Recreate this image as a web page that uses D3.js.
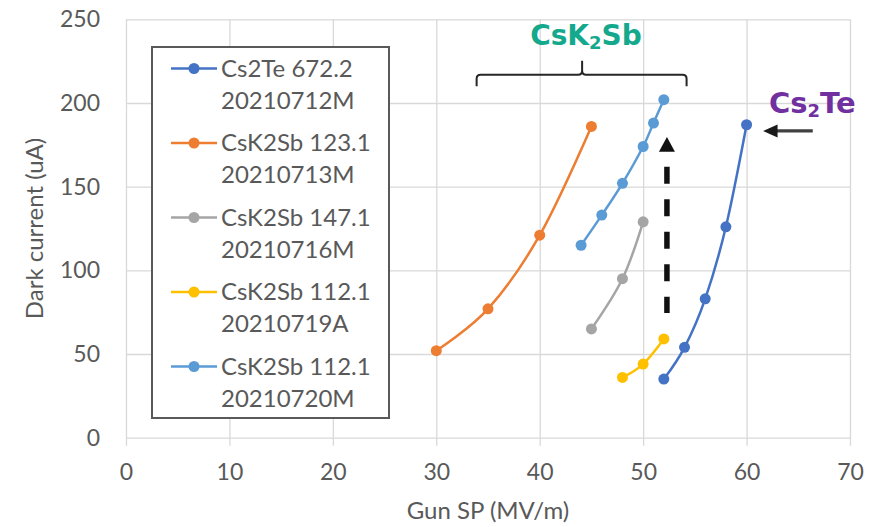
<!DOCTYPE html>
<html>
<head>
<meta charset="utf-8">
<script src="https://cdn.jsdelivr.net/npm/d3@7"></script>
<style>
  html, body { margin: 0; padding: 0; background: #ffffff; }
  svg { display: block; }
  text { font-family: Lato, "Open Sans", sans-serif; }
</style>
</head>
<body>
<svg id="chart" width="887" height="527"></svg>
<script>
// Axis ticks
const xTickValues = [0, 10, 20, 30, 40, 50, 60, 70];
const yTickValues = [0, 50, 100, 150, 200, 250];

// Series: gun set point (MV/m) vs dark current (uA)
const seriesNames = [
  ["Cs2Te 672.2", "20210712M"],
  ["CsK2Sb 123.1", "20210713M"],
  ["CsK2Sb 147.1", "20210716M"],
  ["CsK2Sb 112.1", "20210719A"],
  ["CsK2Sb 112.1", "20210720M"]
];
const seriesColors = ["#4472C4", "#ED7D31", "#A5A5A5", "#FFC000", "#5B9BD5"];

const cs2te0712X = [52, 54, 56, 58, 60];
const cs2te0712Y = [35, 54, 83, 126, 187];
const csk2sb0713X = [30, 35, 40, 45];
const csk2sb0713Y = [52, 77, 121, 186];
const csk2sb0716X = [45, 48, 50];
const csk2sb0716Y = [65, 95, 129];
const csk2sb0719X = [48, 50, 52];
const csk2sb0719Y = [36, 44, 59];
const csk2sb0720X = [44, 46, 48, 50, 51, 52];
const csk2sb0720Y = [115, 133, 152, 174, 188, 202];

const seriesX = [cs2te0712X, csk2sb0713X, csk2sb0716X, csk2sb0719X, csk2sb0720X];
const seriesY = [cs2te0712Y, csk2sb0713Y, csk2sb0716Y, csk2sb0719Y, csk2sb0720Y];

// Annotation anchors, in data units
const bracketX = [33.9, 44.1, 54.2];      // left end, peak, right end
const bracketY = [210, 216.8, 225.3];     // end tips, bar, peak
const dashArrowX = 52.3;
const dashArrowY = [74.5, 161.9, 170.8, 179.7]; // bottom, top of dashes, head base, head tip
const cs2teArrowX = [66.4, 62.9, 61.6];   // tail, head base, tip
const cs2teArrowY = 183.3;

const svg = d3.select("#chart");
const plot = { left: 126, right: 850, top: 19.3, bottom: 437.7 };

const x = d3.scaleLinear().domain([0, 70]).range([plot.left, plot.right]);
const y = d3.scaleLinear().domain([0, 250]).range([plot.bottom, plot.top]);

const gridColor = "#d9d9d9";
const textColor = "#595959";

// Horizontal gridlines with y tick labels
const yAxis = d3.axisLeft(y).tickValues(yTickValues).tickSize(-(plot.right - plot.left)).tickPadding(26);
const gy = svg.append("g").attr("transform", `translate(${plot.left},0)`).call(yAxis);
gy.select(".domain").remove();
gy.selectAll(".tick line").attr("stroke", gridColor).attr("stroke-width", 1.3);
gy.selectAll(".tick text")
  .attr("fill", textColor).style("font-size", "23px").style("font-family", "Lato, sans-serif");

// Vertical gridlines with x tick labels; short ticks below the axis
const xAxis = d3.axisBottom(x).tickValues(xTickValues).tickSize(-(plot.bottom - plot.top)).tickPadding(0);
const gx = svg.append("g").attr("transform", `translate(0,${plot.bottom})`).call(xAxis);
gx.select(".domain").remove();
gx.selectAll(".tick line").attr("stroke", gridColor).attr("stroke-width", 1.3).attr("y2", 8).attr("y1", -(plot.bottom - plot.top));
gx.selectAll(".tick text")
  .attr("fill", textColor).attr("y", 34).attr("dy", "0.35em")
  .style("font-size", "23px").style("font-family", "Lato, sans-serif");

// Axis titles
svg.append("text")
  .attr("x", (plot.left + plot.right) / 2).attr("y", 519)
  .attr("text-anchor", "middle").attr("fill", textColor)
  .style("font-size", "24px").text("Gun SP (MV/m)");
svg.append("text")
  .attr("transform", `translate(43,${(plot.top + plot.bottom) / 2}) rotate(-90)`)
  .attr("text-anchor", "middle").attr("fill", textColor)
  .style("font-size", "24px").text("Dark current (uA)");

// Smoothed series lines with markers
const line = d3.line().x(d => x(d[0])).y(d => y(d[1])).curve(d3.curveCatmullRom.alpha(0));
seriesX.forEach((xs, i) => {
  const pts = xs.map((v, j) => [v, seriesY[i][j]]);
  const g = svg.append("g");
  g.append("path").attr("d", line(pts)).attr("fill", "none")
    .attr("stroke", seriesColors[i]).attr("stroke-width", 2.5);
  g.selectAll("circle").data(pts).join("circle")
    .attr("cx", d => x(d[0])).attr("cy", d => y(d[1])).attr("r", 5.5)
    .attr("fill", seriesColors[i]);
});

// Legend box
const legend = svg.append("g");
legend.append("rect")
  .attr("x", 152).attr("y", 47).attr("width", 237).attr("height", 371)
  .attr("fill", "#ffffff").attr("stroke", "#595959").attr("stroke-width", 2);
seriesNames.forEach((name, i) => {
  const cy = 68.5 + 74.5 * i;
  legend.append("line").attr("x1", 171).attr("x2", 217).attr("y1", cy).attr("y2", cy)
    .attr("stroke", seriesColors[i]).attr("stroke-width", 2.5);
  legend.append("circle").attr("cx", 194).attr("cy", cy).attr("r", 5.5).attr("fill", seriesColors[i]);
  legend.append("text").attr("x", 221).attr("y", cy + 8).attr("fill", textColor)
    .style("font-size", "24px").text(name[0]);
  legend.append("text").attr("x", 221).attr("y", cy + 40).attr("fill", textColor)
    .style("font-size", "24px").text(name[1]);
});

// CsK2Sb bracket
const bx0 = x(bracketX[0]), bxm = x(bracketX[1]), bx1 = x(bracketX[2]);
const byEnd = y(bracketY[0]), byBar = y(bracketY[1]), byPeak = y(bracketY[2]);
const r = 4;
const bracePath = [
  `M${bx0},${byEnd}`, `L${bx0},${byBar + r}`, `Q${bx0},${byBar} ${bx0 + r},${byBar}`,
  `L${bxm - r},${byBar}`, `Q${bxm},${byBar} ${bxm},${byBar - r}`, `L${bxm},${byPeak}`,
  `M${bxm},${byBar - r}`, `Q${bxm},${byBar} ${bxm + r},${byBar}`,
  `L${bx1 - r},${byBar}`, `Q${bx1},${byBar} ${bx1},${byBar + r}`, `L${bx1},${byEnd}`
].join(" ");
svg.append("path").attr("d", bracePath).attr("fill", "none")
  .attr("stroke", "#262626").attr("stroke-width", 2);

// Material labels
const labelFont = "'DejaVu Sans', sans-serif";
const csk2sb = svg.append("text").attr("x", 586).attr("y", 45).attr("text-anchor", "middle")
  .attr("fill", "#14A88C").style("font-family", labelFont).style("font-weight", "bold").style("font-size", "28px");
csk2sb.append("tspan").text("CsK");
csk2sb.append("tspan").attr("dy", 4).style("font-size", "18px").text("2");
csk2sb.append("tspan").attr("dy", -4).text("Sb");

const cs2te = svg.append("text").attr("x", 769).attr("y", 113)
  .attr("fill", "#7030A0").style("font-family", labelFont).style("font-weight", "bold").style("font-size", "29px");
cs2te.append("tspan").text("Cs");
cs2te.append("tspan").attr("dy", 4).style("font-size", "18px").text("2");
cs2te.append("tspan").attr("dy", -4).text("Te");

// Arrow pointing at the Cs2Te curve
const ay = y(cs2teArrowY);
svg.append("line").attr("x1", x(cs2teArrowX[0])).attr("x2", x(cs2teArrowX[1]))
  .attr("y1", ay).attr("y2", ay).attr("stroke", "#404040").attr("stroke-width", 3.2);
svg.append("path")
  .attr("d", `M${x(cs2teArrowX[2])},${ay} L${x(cs2teArrowX[1]) + 1},${ay - 6.5} L${x(cs2teArrowX[1]) + 1},${ay + 6.5} Z`)
  .attr("fill", "#1a1a1a");

// Dashed upward arrow between the CsK2Sb runs
const dx = x(dashArrowX);
svg.append("line").attr("x1", dx).attr("x2", dx)
  .attr("y1", y(dashArrowY[1])).attr("y2", y(dashArrowY[0]))
  .attr("stroke", "#111111").attr("stroke-width", 5.5).attr("stroke-dasharray", "17 15.5");
svg.append("path")
  .attr("d", `M${dx},${y(dashArrowY[3])} L${dx - 8},${y(dashArrowY[2])} L${dx + 8},${y(dashArrowY[2])} Z`)
  .attr("fill", "#111111");
</script>
</body>
</html>
